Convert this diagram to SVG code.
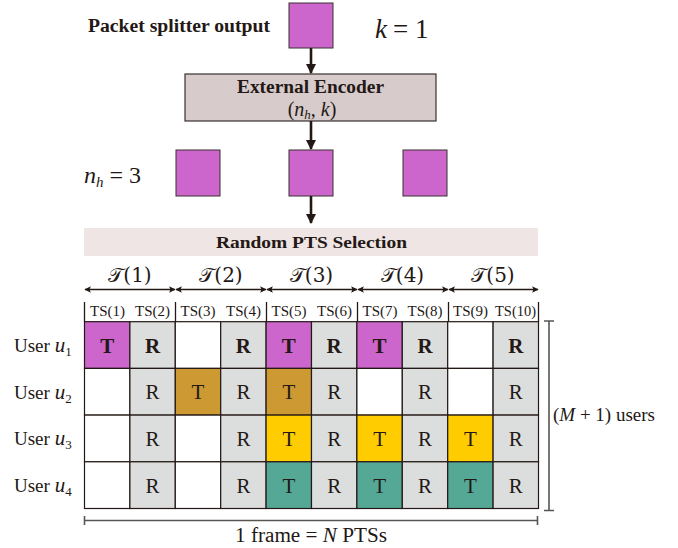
<svg xmlns="http://www.w3.org/2000/svg" width="678" height="548" viewBox="0 0 678 548">
<defs>
<marker id="ah" viewBox="0 0 10 10" refX="9" refY="5" markerWidth="4" markerHeight="4" orient="auto-start-reverse" markerUnits="strokeWidth"><path d="M0,0 L10,5 L0,10 z" fill="#231815"/></marker>
<marker id="sh" viewBox="0 0 10 10" refX="9" refY="5" markerWidth="7" markerHeight="5" orient="auto-start-reverse" markerUnits="strokeWidth"><path d="M0,0 L10,5 L0,10 L2,5 z" fill="#231815"/></marker>
</defs>
<style>
text{font-family:"Liberation Serif","DejaVu Serif",serif;fill:#231815}
.b{font-weight:bold}
.sq{fill:#cc66cc;stroke:#3a3030;stroke-width:1}
.cell{stroke:#231815;stroke-width:1.2}
.g{fill:#dcdedd}.w{fill:#ffffff}.m{fill:#cc66cc}.o{fill:#cc9933}.y{fill:#ffcc00}.t{fill:#55a896}
.tr{font-size:21px;text-anchor:middle}
.ts{font-size:14px;text-anchor:middle}
.ln{stroke:#231815;stroke-width:1.3;fill:none}
.gl{stroke:#5a5555;stroke-width:1.6;fill:none}
.arr{stroke:#231815;stroke-width:2.6;fill:none;marker-end:url(#ah)}
.cal{font-family:"DejaVu Serif","Liberation Serif",serif;font-size:20px;text-anchor:middle}
</style>

<g id="top-labels">
<text x="88" y="32" class="b" font-size="18.5" textLength="182" lengthAdjust="spacingAndGlyphs">Packet splitter output</text>
<text x="375" y="38" font-size="27" font-style="italic">k</text>
<text x="393" y="38" font-size="27">= 1</text>
<text x="84" y="183" font-size="24" font-style="italic">n<tspan font-size="15" dy="4">h</tspan><tspan font-style="normal" dy="-4"> = 3</tspan></text>
</g>

<g id="splitter-output"><rect class="sq" x="289" y="3" width="44" height="45"/></g>

<g id="external-encoder">
<rect x="185" y="74" width="251" height="47" fill="#d7cbcb" stroke="#3a3030" stroke-width="1.2"/>
<text x="310.5" y="93" class="b" font-size="18.5" text-anchor="middle" textLength="147" lengthAdjust="spacingAndGlyphs">External Encoder</text>
<text x="312" y="116" font-size="20" text-anchor="middle">(<tspan font-style="italic">n</tspan><tspan font-style="italic" font-size="13" dy="3">h</tspan><tspan dy="-3">, </tspan><tspan font-style="italic">k</tspan>)</text>
</g>

<g id="encoded-packets">
<rect class="sq" x="176" y="150" width="44" height="46"/>
<rect class="sq" x="289" y="150" width="44" height="46"/>
<rect class="sq" x="403" y="150" width="44" height="46"/>
</g>

<g id="random-pts-selection">
<rect x="84" y="228" width="454" height="28" fill="#efe5e4"/>
<text x="311.5" y="248" class="b" font-size="17" text-anchor="middle" textLength="191" lengthAdjust="spacingAndGlyphs">Random PTS Selection</text>
</g>

<g id="connectors">
<line class="arr" x1="311" y1="48" x2="311" y2="73"/>
<line class="arr" x1="311" y1="121" x2="311" y2="149"/>
<line class="arr" x1="311" y1="196" x2="311" y2="223"/>
</g>

<g id="pts-labels">
<text class="cal" x="130" y="282">𝒯(1)</text>
<text class="cal" x="221" y="282">𝒯(2)</text>
<text class="cal" x="311.5" y="282">𝒯(3)</text>
<text class="cal" x="402.5" y="282">𝒯(4)</text>
<text class="cal" x="493" y="282">𝒯(5)</text>
<g class="ln" stroke-width="1">
<line x1="85" y1="289.5" x2="175" y2="289.5" marker-start="url(#sh)" marker-end="url(#sh)"/>
<line x1="176" y1="289.5" x2="266" y2="289.5" marker-start="url(#sh)" marker-end="url(#sh)"/>
<line x1="267" y1="289.5" x2="357" y2="289.5" marker-start="url(#sh)" marker-end="url(#sh)"/>
<line x1="358" y1="289.5" x2="448" y2="289.5" marker-start="url(#sh)" marker-end="url(#sh)"/>
<line x1="449" y1="289.5" x2="538" y2="289.5" marker-start="url(#sh)" marker-end="url(#sh)"/>
</g>
</g>

<g id="ts-header">
<g class="ln" stroke-width="1">
<line x1="84.5" y1="302" x2="84.5" y2="322"/>
<line x1="175.5" y1="302" x2="175.5" y2="322"/>
<line x1="266.5" y1="302" x2="266.5" y2="322"/>
<line x1="357.5" y1="302" x2="357.5" y2="322"/>
<line x1="448.5" y1="302" x2="448.5" y2="322"/>
<line x1="538.5" y1="302" x2="538.5" y2="322"/>
</g>
<text class="ts" x="107.5" y="316" textLength="35" lengthAdjust="spacingAndGlyphs">TS(1)</text>
<text class="ts" x="152.5" y="316" textLength="35" lengthAdjust="spacingAndGlyphs">TS(2)</text>
<text class="ts" x="198" y="316" textLength="35" lengthAdjust="spacingAndGlyphs">TS(3)</text>
<text class="ts" x="243.5" y="316" textLength="35" lengthAdjust="spacingAndGlyphs">TS(4)</text>
<text class="ts" x="289" y="316" textLength="35" lengthAdjust="spacingAndGlyphs">TS(5)</text>
<text class="ts" x="334.5" y="316" textLength="35" lengthAdjust="spacingAndGlyphs">TS(6)</text>
<text class="ts" x="380" y="316" textLength="35" lengthAdjust="spacingAndGlyphs">TS(7)</text>
<text class="ts" x="425" y="316" textLength="35" lengthAdjust="spacingAndGlyphs">TS(8)</text>
<text class="ts" x="470.5" y="316" textLength="35" lengthAdjust="spacingAndGlyphs">TS(9)</text>
<text class="ts" x="515.5" y="316" textLength="41" lengthAdjust="spacingAndGlyphs">TS(10)</text>
</g>

<g id="user-labels" font-size="19">
<text x="14" y="352">User <tspan font-style="italic" font-size="21">u</tspan><tspan font-size="13" dy="4">1</tspan></text>
<text x="14" y="399">User <tspan font-style="italic" font-size="21">u</tspan><tspan font-size="13" dy="4">2</tspan></text>
<text x="14" y="445">User <tspan font-style="italic" font-size="21">u</tspan><tspan font-size="13" dy="4">3</tspan></text>
<text x="14" y="492">User <tspan font-style="italic" font-size="21">u</tspan><tspan font-size="13" dy="4">4</tspan></text>
</g>

<g id="row-u1">
<rect class="cell m" x="84.5" y="321.7" width="45.4" height="46.7"/>
<rect class="cell g" x="129.9" y="321.7" width="45.4" height="46.7"/>
<rect class="cell w" x="175.3" y="321.7" width="45.4" height="46.7"/>
<rect class="cell g" x="220.7" y="321.7" width="45.4" height="46.7"/>
<rect class="cell m" x="266.1" y="321.7" width="45.4" height="46.7"/>
<rect class="cell g" x="311.5" y="321.7" width="45.4" height="46.7"/>
<rect class="cell m" x="356.9" y="321.7" width="45.4" height="46.7"/>
<rect class="cell g" x="402.3" y="321.7" width="45.4" height="46.7"/>
<rect class="cell w" x="447.7" y="321.7" width="45.4" height="46.7"/>
<rect class="cell g" x="493.1" y="321.7" width="45.4" height="46.7"/>
<g class="b">
<text class="tr" x="107.2" y="352.5">T</text>
<text class="tr" x="152.6" y="352.5">R</text>
<text class="tr" x="243.4" y="352.5">R</text>
<text class="tr" x="288.8" y="352.5">T</text>
<text class="tr" x="334.2" y="352.5">R</text>
<text class="tr" x="379.6" y="352.5">T</text>
<text class="tr" x="425" y="352.5">R</text>
<text class="tr" x="515.8" y="352.5">R</text>
</g>
</g>

<g id="row-u2">
<rect class="cell w" x="84.5" y="368.4" width="45.4" height="46.7"/>
<rect class="cell g" x="129.9" y="368.4" width="45.4" height="46.7"/>
<rect class="cell o" x="175.3" y="368.4" width="45.4" height="46.7"/>
<rect class="cell g" x="220.7" y="368.4" width="45.4" height="46.7"/>
<rect class="cell o" x="266.1" y="368.4" width="45.4" height="46.7"/>
<rect class="cell g" x="311.5" y="368.4" width="45.4" height="46.7"/>
<rect class="cell w" x="356.9" y="368.4" width="45.4" height="46.7"/>
<rect class="cell g" x="402.3" y="368.4" width="45.4" height="46.7"/>
<rect class="cell w" x="447.7" y="368.4" width="45.4" height="46.7"/>
<rect class="cell g" x="493.1" y="368.4" width="45.4" height="46.7"/>
<text class="tr" x="152.6" y="399">R</text>
<text class="tr" x="198" y="399">T</text>
<text class="tr" x="243.4" y="399">R</text>
<text class="tr" x="288.8" y="399">T</text>
<text class="tr" x="334.2" y="399">R</text>
<text class="tr" x="425" y="399">R</text>
<text class="tr" x="515.8" y="399">R</text>
</g>

<g id="row-u3">
<rect class="cell w" x="84.5" y="415.1" width="45.4" height="46.7"/>
<rect class="cell g" x="129.9" y="415.1" width="45.4" height="46.7"/>
<rect class="cell w" x="175.3" y="415.1" width="45.4" height="46.7"/>
<rect class="cell g" x="220.7" y="415.1" width="45.4" height="46.7"/>
<rect class="cell y" x="266.1" y="415.1" width="45.4" height="46.7"/>
<rect class="cell g" x="311.5" y="415.1" width="45.4" height="46.7"/>
<rect class="cell y" x="356.9" y="415.1" width="45.4" height="46.7"/>
<rect class="cell g" x="402.3" y="415.1" width="45.4" height="46.7"/>
<rect class="cell y" x="447.7" y="415.1" width="45.4" height="46.7"/>
<rect class="cell g" x="493.1" y="415.1" width="45.4" height="46.7"/>
<text class="tr" x="152.6" y="446">R</text>
<text class="tr" x="243.4" y="446">R</text>
<text class="tr" x="288.8" y="446">T</text>
<text class="tr" x="334.2" y="446">R</text>
<text class="tr" x="379.6" y="446">T</text>
<text class="tr" x="425" y="446">R</text>
<text class="tr" x="470.4" y="446">T</text>
<text class="tr" x="515.8" y="446">R</text>
</g>

<g id="row-u4">
<rect class="cell w" x="84.5" y="461.8" width="45.4" height="46.7"/>
<rect class="cell g" x="129.9" y="461.8" width="45.4" height="46.7"/>
<rect class="cell w" x="175.3" y="461.8" width="45.4" height="46.7"/>
<rect class="cell g" x="220.7" y="461.8" width="45.4" height="46.7"/>
<rect class="cell t" x="266.1" y="461.8" width="45.4" height="46.7"/>
<rect class="cell g" x="311.5" y="461.8" width="45.4" height="46.7"/>
<rect class="cell t" x="356.9" y="461.8" width="45.4" height="46.7"/>
<rect class="cell g" x="402.3" y="461.8" width="45.4" height="46.7"/>
<rect class="cell t" x="447.7" y="461.8" width="45.4" height="46.7"/>
<rect class="cell g" x="493.1" y="461.8" width="45.4" height="46.7"/>
<text class="tr" x="152.6" y="492.5">R</text>
<text class="tr" x="243.4" y="492.5">R</text>
<text class="tr" x="288.8" y="492.5">T</text>
<text class="tr" x="334.2" y="492.5">R</text>
<text class="tr" x="379.6" y="492.5">T</text>
<text class="tr" x="425" y="492.5">R</text>
<text class="tr" x="470.4" y="492.5">T</text>
<text class="tr" x="515.8" y="492.5">R</text>
</g>

<g id="users-bracket">
<path class="gl" d="M544,321 H554 M549,321 V510.5 M544,510.5 H554"/>
<text x="553" y="421" font-size="18" textLength="102" lengthAdjust="spacingAndGlyphs">(<tspan font-style="italic">M</tspan> + 1) users</text>
</g>

<g id="frame-bracket">
<path class="gl" d="M84.5,516 V525 M84.5,520.5 H537.5 M537.5,516 V525"/>
<text x="311" y="542" font-size="20" text-anchor="middle" textLength="152" lengthAdjust="spacingAndGlyphs">1 frame = <tspan font-style="italic">N</tspan> PTSs</text>
</g>
</svg>
